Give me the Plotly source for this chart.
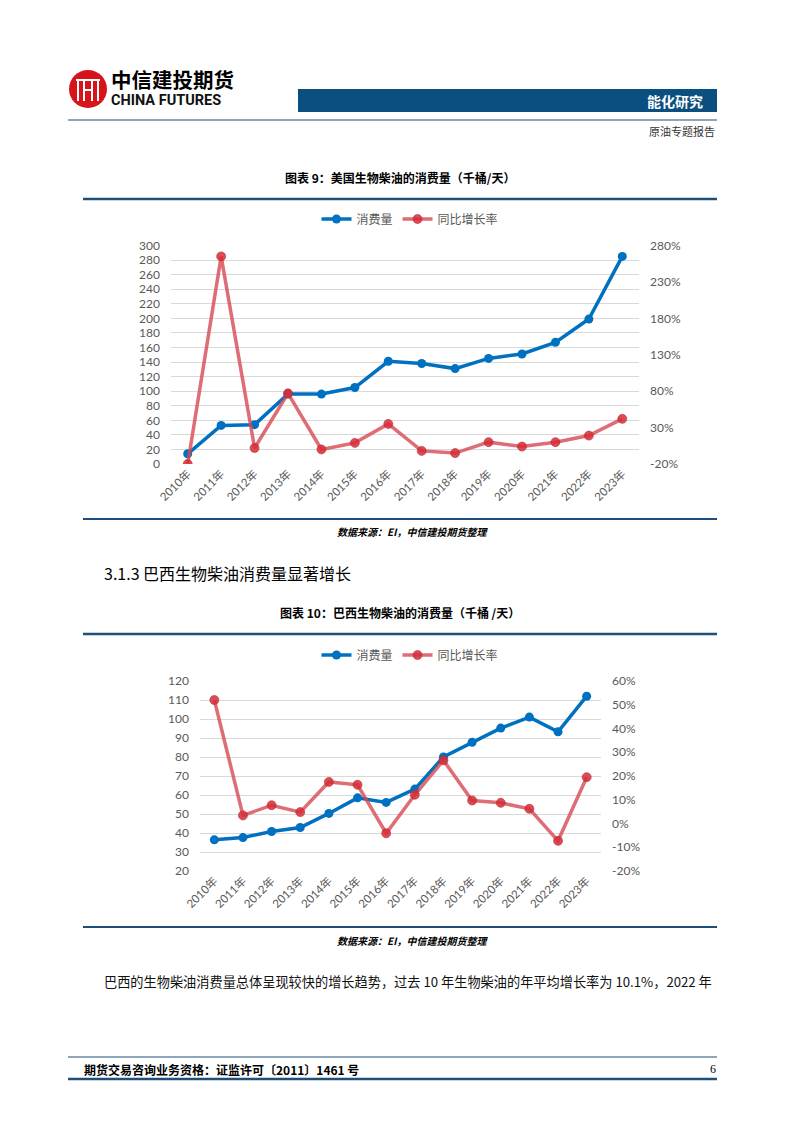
import plotly.graph_objects as go

W, H = 802, 1133

# 图表9：美国生物柴油消费量（千桶/天）与同比增长率
years = [f"{y}年" for y in range(2010, 2024)]
us_volume = [14, 53, 54, 96, 96, 105, 141, 138, 131, 145, 151, 167, 199, 285]
us_yoy = [-20, 265, 2, 77, 0, 9, 35, -2, -5, 10, 4, 10, 19, 42]
us_left_ticks = list(range(0, 301, 20))
us_right_ticks = [-20, 30, 80, 130, 180, 230, 280]

# 图表10：巴西生物柴油消费量（千桶/天）与同比增长率
br_volume = [36.4, 37.6, 40.8, 42.9, 50.3, 58.5, 56.1, 63.1, 80, 87.7, 95.2, 101, 93.3, 112]
br_yoy = [52, 3.4, 7.7, 4.8, 17.5, 16.3, -4.1, 12.1, 26.6, 9.7, 8.7, 6.2, -7.3, 19.5]
br_left_ticks = list(range(20, 121, 10))
br_right_ticks = list(range(-20, 61, 10))

BLUE = "#0070c0"
RED_LINE = "rgba(214, 72, 82, 0.8)"
RED_MARK = "rgba(214, 45, 55, 0.85)"
NAVY = "#1f4e79"
GRAY = "#595959"
FONT = "Lato, Noto Sans CJK SC"
CJK = "Noto Sans CJK SC"


def px(x):
    return x / W


def py(y):
    return 1 - y / H


fig = go.Figure()

# 美国
fig.add_trace(go.Scatter(
    x=years, y=us_volume, name="消费量", mode="lines+markers",
    line=dict(color=BLUE, width=3.5), marker=dict(color=BLUE, size=9),
    xaxis="x", yaxis="y", legend="legend"
))
fig.add_trace(go.Scatter(
    x=years, y=us_yoy, name="同比增长率", mode="lines+markers",
    line=dict(color=RED_LINE, width=3.5),
    marker=dict(color=RED_MARK, size=9, line=dict(color="rgba(190,40,50,0.6)", width=1)),
    xaxis="x", yaxis="y2", legend="legend"
))

# 巴西
fig.add_trace(go.Scatter(
    x=years, y=br_volume, name="消费量", mode="lines+markers",
    line=dict(color=BLUE, width=3.5), marker=dict(color=BLUE, size=9),
    xaxis="x3", yaxis="y3", legend="legend2"
))
fig.add_trace(go.Scatter(
    x=years, y=br_yoy, name="同比增长率", mode="lines+markers",
    line=dict(color=RED_LINE, width=3.5),
    marker=dict(color=RED_MARK, size=9, line=dict(color="rgba(190,40,50,0.6)", width=1)),
    xaxis="x3", yaxis="y4", legend="legend2"
))

tick_font = dict(family=FONT, size=12, color=GRAY)
xcommon = dict(type="category", range=[-0.5, 13.5], tickangle=-45, showgrid=False,
               showline=False, zeroline=False, ticks="", tickfont=dict(family=FONT, size=11.5, color=GRAY),
               fixedrange=True, automargin=False)
ycommon = dict(showline=False, zeroline=False, ticks="", tickfont=tick_font,
               ticklabelstandoff=10, fixedrange=True, automargin=False)

# 页面装饰
shapes = []
annotations = []


def hline(y, x0, x1, width, color=NAVY):
    shapes.append(dict(type="line", xref="paper", yref="paper", x0=px(x0), x1=px(x1),
                       y0=py(y), y1=py(y), line=dict(color=color, width=width)))


def text(x, y, s, size, color="#000", bold=False, xanchor="center", family=CJK, italic=False):
    if bold:
        s = f"<b>{s}</b>"
    if italic:
        s = f"<i>{s}</i>"
    annotations.append(dict(x=px(x), y=py(y), xref="paper", yref="paper", text=s,
                            showarrow=False, xanchor=xanchor, yanchor="middle", borderpad=0,
                            font=dict(family=family, size=size, color=color)))


# logo
shapes.append(dict(type="circle", xref="paper", yref="paper", x0=px(69), x1=px(107),
                   y0=py(108), y1=py(70), fillcolor="#d7141a", line=dict(width=0)))
for lx in [78, 84, 92, 98]:
    shapes.append(dict(type="line", xref="paper", yref="paper", x0=px(lx), x1=px(lx),
                       y0=py(101), y1=py(80), line=dict(color="white", width=2)))
shapes.append(dict(type="line", xref="paper", yref="paper", x0=px(76), x1=px(100),
                   y0=py(80), y1=py(80), line=dict(color="white", width=2)))
shapes.append(dict(type="line", xref="paper", yref="paper", x0=px(84), x1=px(92),
                   y0=py(90), y1=py(90), line=dict(color="white", width=2)))
text(110, 79, "中信建投期货", 20.5, bold=True, xanchor="left")
text(110, 100.5, "CHINA FUTURES", 14.5, color="#111", bold=True, xanchor="left", family="Roboto")

# 顶部栏
shapes.append(dict(type="rect", xref="paper", yref="paper", x0=px(298), x1=px(717),
                   y0=py(112), y1=py(89), fillcolor="#0b4f80", line=dict(width=0)))
text(704, 101, "能化研究", 14, color="white", bold=True, xanchor="right")
hline(120, 68, 717, 1.2)
text(716, 131, "原油专题报告", 11, color="#333", xanchor="right")

# 图表9
text(400, 177, "图表 9：美国生物柴油的消费量（千桶/天）", 12, bold=True)
hline(199, 83, 717, 2.5)
hline(519, 83, 717, 2)
text(412, 531, "数据来源：EI，中信建投期货整理", 10, bold=True, italic=True)

# 小节标题
text(103, 573, "3.1.3 巴西生物柴油消费量显著增长", 16, xanchor="left")

# 图表10
text(400, 612, "图表 10：巴西生物柴油的消费量（千桶 /天）", 12, bold=True)
hline(634, 83, 717, 2.5)
hline(927, 83, 717, 2)
text(412, 940, "数据来源：EI，中信建投期货整理", 10, bold=True, italic=True)

# 正文
text(103, 981, "巴西的生物柴油消费量总体呈现较快的增长趋势，过去 10 年生物柴油的年平均增长率为 10.1%，2022 年",
     13.2, color="#111", xanchor="left")

# 页脚
hline(1057, 68, 717, 1.2)
text(83, 1069, "期货交易咨询业务资格：证监许可〔2011〕1461 号", 12, bold=True, xanchor="left")
text(717, 1069, "6", 12, xanchor="right", family="Liberation Serif")
hline(1079, 68, 717, 2.5)

legend_font = dict(family=CJK, size=12, color=GRAY)

fig.update_layout(
    width=W, height=H,
    margin=dict(l=0, r=0, t=0, b=0, autoexpand=False),
    paper_bgcolor="white", plot_bgcolor="white",
    showlegend=True,
    xaxis=dict(**xcommon, domain=[px(171), px(639)], anchor="y"),
    yaxis=dict(**ycommon, domain=[py(464), py(245.5)], range=[0, 300], tickvals=us_left_ticks,
               showgrid=True, gridcolor="#d9d9d9", gridwidth=1, anchor="x"),
    yaxis2=dict(**ycommon, overlaying="y", side="right", range=[-20, 280], tickvals=us_right_ticks,
                ticktext=[f"{v}%" for v in us_right_ticks], showgrid=False, anchor="x"),
    xaxis3=dict(**xcommon, domain=[px(200), px(601)], anchor="y3"),
    yaxis3=dict(**ycommon, domain=[py(871), py(681)], range=[20, 120], tickvals=br_left_ticks,
                showgrid=True, gridcolor="#d9d9d9", gridwidth=1, anchor="x3"),
    yaxis4=dict(**ycommon, overlaying="y3", side="right", range=[-20, 60], tickvals=br_right_ticks,
                ticktext=[f"{v}%" for v in br_right_ticks], showgrid=False, anchor="x3"),
    legend=dict(orientation="h", x=px(410), y=py(219), xanchor="center", yanchor="middle",
                font=legend_font, bgcolor="rgba(0,0,0,0)", itemwidth=30),
    legend2=dict(orientation="h", x=px(410), y=py(655), xanchor="center", yanchor="middle",
                 font=legend_font, bgcolor="rgba(0,0,0,0)", itemwidth=30),
    shapes=shapes,
    annotations=annotations,
)

fig.write_html("out.html", config={"displayModeBar": False},
               post_script="document.body.style.margin='0';")
